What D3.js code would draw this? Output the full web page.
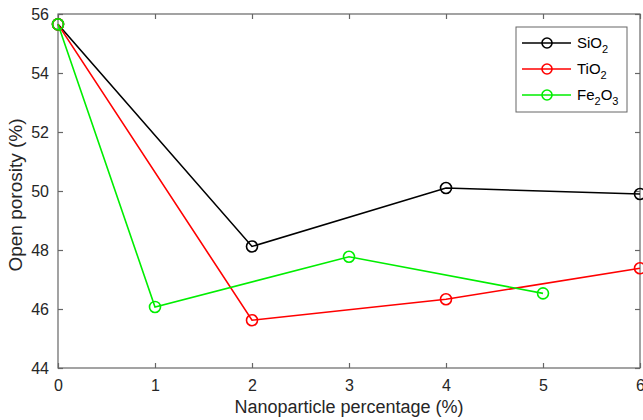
<!DOCTYPE html>
<html><head><meta charset="utf-8">
<script src="https://cdn.jsdelivr.net/npm/d3@7"></script>
<style>body{margin:0;background:#fff}svg{display:block;font-family:"Liberation Sans",Arial,sans-serif}</style>
</head><body><svg id="c" width="643" height="420"></svg>
<script>
const xTicks = [0,1,2,3,4,5,6];
const yTicks = [44,46,48,50,52,54,56];
const sio2X = [0,2,4,6];
const sio2Y = [55.65,48.12,50.1,49.9];
const tio2X = [0,2,4,6];
const tio2Y = [55.65,45.62,46.33,47.38];
const fe2o3X = [0,1,3,5];
const fe2o3Y = [55.65,46.07,47.77,46.53];
const seriesNames = [["SiO","2",""],["TiO","2",""],["Fe","2","O","3"]];
const colors = ["#000000","#ff0000","#00ee00"];

const svg = d3.select("#c");
const L=58,R=640,T=14,B=368;
const x = d3.scaleLinear().domain([0,6]).range([L,R]);
const y = d3.scaleLinear().domain([44,56]).range([B,T]);
const axisCol="#666", textCol="#262626";

svg.append("rect").attr("x",L).attr("y",T).attr("width",R-L).attr("height",B-T)
  .attr("fill","none").attr("stroke",axisCol).attr("stroke-width",1.2);

const gx = svg.append("g").attr("transform",`translate(0,${B})`)
  .call(d3.axisBottom(x).tickValues(xTicks).tickSize(-5).tickPadding(12).tickFormat(d3.format("d")));
const gxt = svg.append("g").attr("transform",`translate(0,${T})`)
  .call(d3.axisTop(x).tickValues(xTicks).tickSize(-5).tickFormat(""));
const gy = svg.append("g").attr("transform",`translate(${L},0)`)
  .call(d3.axisLeft(y).tickValues(yTicks).tickSize(-5).tickPadding(9).tickFormat(d3.format("d")));
const gyr = svg.append("g").attr("transform",`translate(${R},0)`)
  .call(d3.axisRight(y).tickValues(yTicks).tickSize(-5).tickFormat(""));
[gx,gxt,gy,gyr].forEach(g=>{
  g.select(".domain").remove();
  g.selectAll("line").attr("stroke",axisCol).attr("stroke-width",1.2);
  g.selectAll("text").attr("fill",textCol).style("font-size","16px").style("font-family","'Liberation Sans',Arial,sans-serif");
});

svg.append("text").attr("x",(L+R)/2).attr("y",413).attr("text-anchor","middle")
  .attr("fill",textCol).style("font-size","18px").text("Nanoparticle percentage (%)");
svg.append("text").attr("transform",`translate(22,${(T+B)/2+4}) rotate(-90)`).attr("text-anchor","middle")
  .attr("fill",textCol).style("font-size","19px").text("Open porosity (%)");

const data = [[sio2X,sio2Y],[tio2X,tio2Y],[fe2o3X,fe2o3Y]];
const line = d3.line().x(d=>x(d[0])).y(d=>y(d[1]));
data.forEach(([xs,ys],i)=>{
  const pts = xs.map((v,j)=>[v,ys[j]]);
  svg.append("path").datum(pts).attr("d",line).attr("fill","none")
    .attr("stroke",colors[i]).attr("stroke-width",1.6);
  svg.selectAll(null).data(pts).enter().append("circle")
    .attr("cx",d=>x(d[0])).attr("cy",d=>y(d[1])).attr("r",5.5)
    .attr("fill","none").attr("stroke",colors[i]).attr("stroke-width",1.6);
});

const lg = svg.append("g");
lg.append("rect").attr("x",516).attr("y",27).attr("width",111).attr("height",85)
  .attr("fill","#fff").attr("stroke",axisCol).attr("stroke-width",1);
const lys=[43,69,95];
seriesNames.forEach((nm,i)=>{
  const yy=lys[i];
  lg.append("line").attr("x1",522).attr("x2",571).attr("y1",yy).attr("y2",yy)
    .attr("stroke",colors[i]).attr("stroke-width",1.6);
  lg.append("circle").attr("cx",547).attr("cy",yy).attr("r",5)
    .attr("fill","none").attr("stroke",colors[i]).attr("stroke-width",1.6);
  const t = lg.append("text").attr("x",577).attr("y",yy+5).attr("fill","#000").style("font-size","15px");
  nm.forEach((part,k)=>{
    if(part==="") return;
    const sub = k%2===1;
    t.append("tspan").text(part).style("font-size",sub?"11px":"15px")
      .attr("dy", sub? 5 : (k>0? -5:0));
  });
});
</script></body></html>
